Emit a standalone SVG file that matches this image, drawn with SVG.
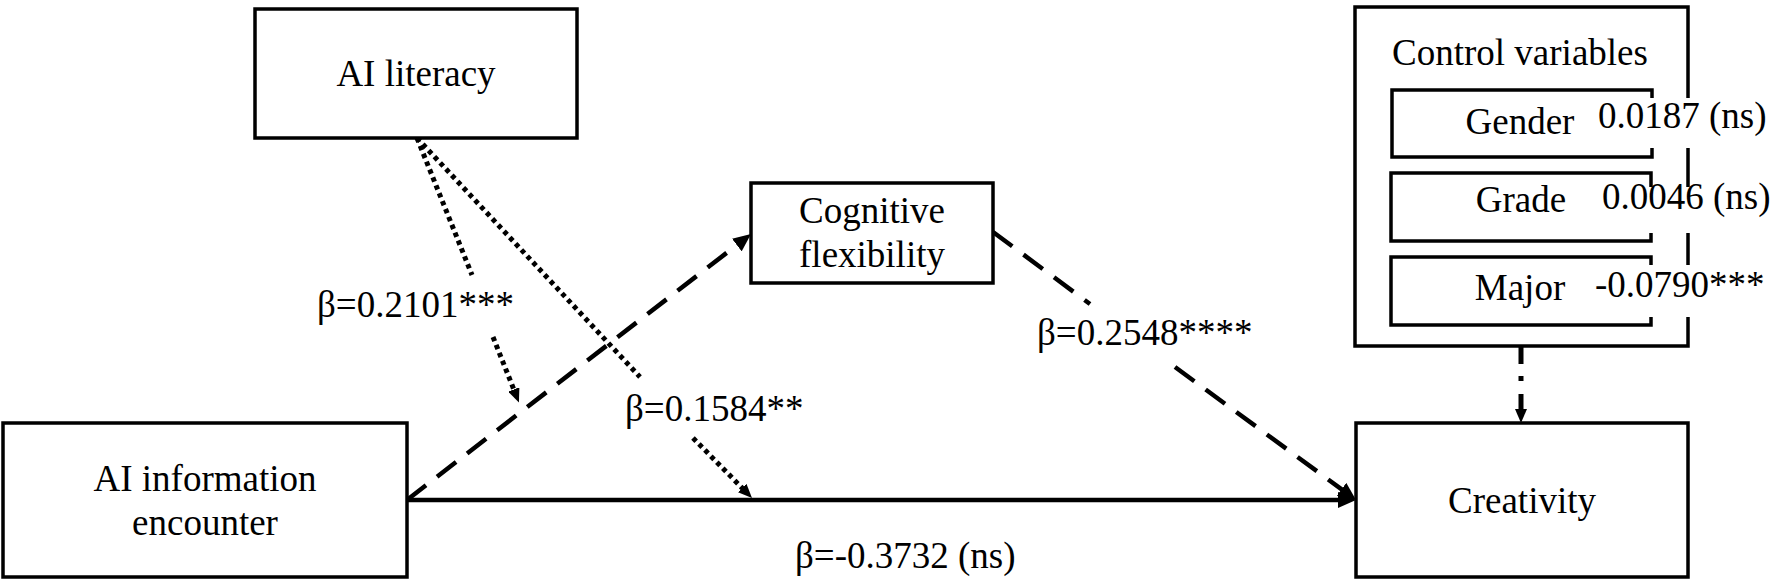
<svg xmlns="http://www.w3.org/2000/svg" width="1772" height="586" viewBox="0 0 1772 586">
  <style>
    .box { fill: #fff; stroke: #000; stroke-width: 3.5; }
    .t { font-family: "Liberation Serif", "Times New Roman", serif; font-size: 37px; fill: #000; }
    .c { text-anchor: middle; }
    .solid { fill: none; stroke: #000; stroke-width: 4.5; }
    .dash { fill: none; stroke: #000; stroke-width: 4.5; stroke-dasharray: 24 14; }
    .dot { fill: none; stroke: #000; stroke-width: 5; stroke-dasharray: 4.5 4; }
    .dashdot { fill: none; stroke: #000; stroke-width: 5; stroke-dasharray: 18 12 5 13 40; }
    .mask { fill: #fff; stroke: none; }
  </style>
  <defs>
    <marker id="ahL" markerUnits="userSpaceOnUse" viewBox="0 0 18 16" markerWidth="18" markerHeight="16" refX="10" refY="8" orient="auto">
      <path d="M0,0 L18,8 L0,16 z" fill="#000"/>
    </marker>
    <marker id="ahS" markerUnits="userSpaceOnUse" viewBox="0 0 14 12" markerWidth="14" markerHeight="12" refX="6" refY="6" orient="auto">
      <path d="M0,0 L14,6 L0,12 z" fill="#000"/>
    </marker>
  </defs>

  <g id="connectors">
    <!-- AI information encounter -> Creativity (solid) -->
    <path class="solid" d="M407,500 H1348" marker-end="url(#ahL)"/>
    <!-- AI information encounter -> Cognitive flexibility (dashed) -->
    <path class="dash" d="M407,500 L744.7,238.9" marker-end="url(#ahL)"/>
    <!-- Cognitive flexibility -> Creativity (dashed, interrupted by label) -->
    <path class="dash" d="M993,232 L1090,304"/>
    <path class="dash" d="M1175,367 L1349.6,495.2" marker-end="url(#ahL)"/>
    <!-- AI literacy moderation on a-path (dotted) -->
    <path class="dot" d="M417,138 L472,275"/>
    <path class="dot" d="M493,337 L516,395" marker-end="url(#ahS)"/>
    <!-- AI literacy moderation on c-path (dotted) -->
    <path class="dot" d="M417,138 L640,377"/>
    <path class="dot" d="M693,438 L746.4,492.3" marker-end="url(#ahS)"/>
    <!-- Control variables -> Creativity (dash-dot) -->
    <path class="dashdot" d="M1521,346 V415" marker-end="url(#ahS)"/>
  </g>

  <g id="labels">
    <text class="t" x="317" y="317">β=0.2101***</text>
    <text class="t" x="625" y="421">β=0.1584**</text>
    <text class="t" x="1037" y="345">β=0.2548****</text>
    <text class="t" x="795" y="568">β=-0.3732 (ns)</text>
  </g>

  <g id="node-ai-literacy">
    <rect class="box" x="255" y="9" width="322" height="129"/>
    <text class="t c" x="416" y="86">AI literacy</text>
  </g>

  <g id="node-ai-information-encounter">
    <rect class="box" x="3" y="423" width="404" height="154"/>
    <text class="t c" x="205" y="491">AI information</text>
    <text class="t c" x="205" y="535">encounter</text>
  </g>

  <g id="node-cognitive-flexibility">
    <rect class="box" x="751" y="183" width="242" height="100"/>
    <text class="t c" x="872" y="223">Cognitive</text>
    <text class="t c" x="872" y="267">flexibility</text>
  </g>

  <g id="node-creativity">
    <rect class="box" x="1356" y="423" width="332" height="154"/>
    <text class="t c" x="1522" y="513">Creativity</text>
  </g>

  <g id="node-control-variables">
    <rect class="box" x="1355" y="7" width="333" height="339"/>
    <text class="t c" x="1520" y="65">Control variables</text>
    <g id="node-gender">
      <rect class="box" x="1392" y="90" width="260" height="67"/>
      <text class="t c" x="1520" y="134">Gender</text>
    </g>
    <g id="node-grade">
      <rect class="box" x="1391" y="173" width="260" height="68"/>
      <text class="t c" x="1521" y="212">Grade</text>
    </g>
    <g id="node-major">
      <rect class="box" x="1391" y="257" width="260" height="68"/>
      <text class="t c" x="1520" y="300">Major</text>
    </g>
    <rect class="mask" x="1596" y="98" width="176" height="50"/>
    <text class="t" x="1598" y="128">0.0187 (ns)</text>
    <rect class="mask" x="1596" y="187" width="176" height="46"/>
    <text class="t" x="1602" y="209">0.0046 (ns)</text>
    <rect class="mask" x="1593" y="265" width="179" height="52"/>
    <text class="t" x="1595" y="297">-0.0790***</text>
  </g>
</svg>
